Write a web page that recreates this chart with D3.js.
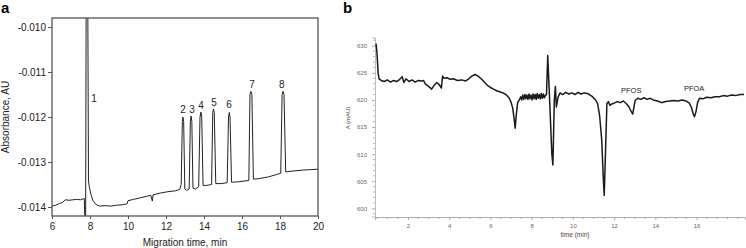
<!DOCTYPE html>
<html>
<head>
<meta charset="utf-8">
<script src="https://cdn.jsdelivr.net/npm/d3@7"></script>
<style>
  body { margin: 0; background: #fff; }
  svg { display: block; font-family: "Liberation Sans", Arial, sans-serif; }
  .axis-a text { font-size: 10px; fill: #222; }
  .axis-a line { stroke: #555; }
  .axis-b text { font-size: 6px; fill: #666; }
  .axis-b line { stroke: #aaa; }
</style>
</head>
<body>
<svg id="chart" width="746" height="248"></svg>
<script>
"use strict";

// Panel a: migration time (min) vs absorbance (AU)
const ticksA_x = [6, 8, 10, 12, 14, 16, 18, 20];
const ticksA_y = [-0.010, -0.011, -0.012, -0.013, -0.014];
const traceA = [
    [6.0, -0.01398], [6.2, -0.01396], [6.4, -0.01392], [6.55, -0.01390], [6.7, -0.01384],
    [6.9, -0.01385], [7.1, -0.01384], [7.3, -0.01383], [7.5, -0.01384], [7.7, -0.01381],
    [7.73, -0.0143], [7.77, -0.0143], [7.80, -0.0090], [7.88, -0.0090], [7.92, -0.0134],
    [7.96, -0.01355], [8.05, -0.01372], [8.15, -0.01385], [8.3, -0.01394], [8.5, -0.01398],
    [8.8, -0.01397], [9.1, -0.01398], [9.4, -0.01396], [9.7, -0.01395], [9.95, -0.01393],
    [10.0, -0.01386], [10.3, -0.01383], [10.6, -0.01380], [10.9, -0.01377], [11.2, -0.01374],
    [11.28, -0.01387], [11.32, -0.01373], [11.7, -0.01369], [12.1, -0.01366], [12.5, -0.01364],
    [12.72, -0.01361],
    [12.80, -0.0135], [12.86, -0.0121], [12.89, -0.01200], [12.93, -0.0121], [12.99, -0.0136],
    [13.08, -0.01363], [13.22, -0.0136],
    [13.28, -0.0121], [13.32, -0.01198], [13.36, -0.0121], [13.42, -0.01358], [13.55, -0.01360],
    [13.72, -0.01355],
    [13.79, -0.0120], [13.84, -0.01189], [13.88, -0.0120], [13.95, -0.01352], [14.15, -0.01352],
    [14.40, -0.0135],
    [14.46, -0.0119], [14.50, -0.01182], [14.54, -0.0119], [14.62, -0.01348], [14.9, -0.01348],
    [15.22, -0.01346],
    [15.29, -0.0120], [15.33, -0.0119], [15.37, -0.0120], [15.45, -0.01345], [15.8, -0.01344],
    [16.36, -0.01341],
    [16.42, -0.0115], [16.47, -0.01143], [16.52, -0.0115], [16.6, -0.01338], [16.9, -0.01337],
    [17.4, -0.01333], [17.8, -0.01328], [18.04, -0.01325],
    [18.11, -0.0115], [18.16, -0.01143], [18.21, -0.0115], [18.3, -0.01322], [18.7, -0.0132],
    [19.2, -0.01318], [19.6, -0.01317], [20.0, -0.01316]
];
const peakLabelsA = ["1", "2", "3", "4", "5", "6", "7", "8"];
const peakLabelTimeA = [8.21, 12.89, 13.37, 13.84, 14.53, 15.32, 16.53, 18.1];
const peakLabelValueA = [-0.01167, -0.01191, -0.01191, -0.01182, -0.01176, -0.01180, -0.01136, -0.01136];

// Panel b: time (min) vs A (mAU)
const ticksB_x = [2, 4, 6, 8, 10, 12, 14, 16];
const minorB_x = [0.5, 1, 1.5, 2.5, 3, 3.5, 4.5, 5, 5.5, 6.5, 7, 7.5, 8.5, 9, 9.5, 10.5, 11, 11.5,
    12.5, 13, 13.5, 14.5, 15, 15.5, 16.5, 17, 17.5, 18];
const ticksB_y = [600, 605, 610, 615, 620, 625, 630];
const minorB_y = [599, 601, 602, 603, 604, 606, 607, 608, 609, 611, 612, 613, 614, 616, 617, 618, 619,
    621, 622, 623, 624, 626, 627, 628, 629, 631];
const traceB = [
    [0.45, 630.4], [0.50, 628.5], [0.55, 625.0], [0.60, 623.9], [0.70, 623.6], [0.85, 623.4],
    [1.0, 623.7], [1.15, 623.3], [1.3, 623.6], [1.45, 623.4], [1.6, 623.8], [1.72, 624.3],
    [1.8, 623.2], [1.9, 623.9], [2.05, 623.4], [2.2, 623.7], [2.35, 623.3], [2.5, 623.6],
    [2.65, 623.5], [2.75, 623.6], [2.85, 622.9], [3.0, 622.5], [3.15, 622.0], [3.25, 622.6],
    [3.4, 623.2], [3.5, 622.9], [3.62, 622.2], [3.68, 624.4], [3.75, 624.0], [3.9, 624.1],
    [4.05, 623.8], [4.2, 623.9], [4.4, 623.6], [4.6, 623.7], [4.8, 623.5], [4.95, 623.9],
    [5.1, 624.4], [5.25, 624.7], [5.4, 624.4], [5.55, 623.9], [5.7, 623.3], [5.85, 622.7],
    [6.0, 622.3], [6.15, 622.0], [6.3, 621.7], [6.45, 621.5], [6.6, 621.3], [6.75, 621.0],
    [6.9, 620.4], [7.0, 619.6], [7.08, 618.5], [7.15, 616.5], [7.2, 614.8], [7.26, 617.5],
    [7.32, 619.5], [7.4, 620.0], [7.47, 620.6], [7.52, 620.0], [7.57, 620.9], [7.62, 620.1],
    [7.67, 621.0], [7.72, 620.2], [7.77, 620.9], [7.82, 620.1], [7.87, 621.1], [7.92, 620.2],
    [7.97, 620.9], [8.02, 620.0], [8.07, 621.1], [8.12, 620.2], [8.17, 621.0], [8.22, 620.1],
    [8.27, 621.2], [8.32, 620.3], [8.37, 621.0], [8.42, 620.2], [8.47, 621.2], [8.52, 620.3],
    [8.57, 621.1], [8.62, 620.4], [8.68, 620.9], [8.72, 621.0], [8.78, 628.2], [8.85, 622.0],
    [8.98, 610.0], [9.03, 608.0], [9.1, 620.0], [9.15, 622.5], [9.2, 618.7], [9.28, 620.5],
    [9.38, 621.3], [9.5, 621.0], [9.65, 621.4], [9.8, 621.1], [9.95, 621.3], [10.1, 621.0],
    [10.25, 621.4], [10.4, 621.1], [10.55, 621.3], [10.7, 621.2], [10.8, 621.0], [10.95, 620.6],
    [11.1, 620.0], [11.2, 619.3], [11.3, 617.0], [11.4, 612.6], [11.47, 606.0], [11.52, 602.4],
    [11.58, 610.0], [11.65, 619.3], [11.72, 619.7], [11.8, 619.0], [11.9, 619.3], [12.0, 619.4],
    [12.15, 619.7], [12.3, 619.5], [12.45, 619.8], [12.6, 619.3], [12.7, 618.8], [12.8, 618.1],
    [12.9, 617.4], [12.97, 618.8], [13.02, 619.9], [13.15, 620.3], [13.3, 620.1], [13.45, 620.4],
    [13.6, 620.1], [13.75, 620.3], [13.9, 620.0], [14.1, 619.8], [14.3, 619.5], [14.5, 619.7],
    [14.7, 619.8], [14.9, 619.9], [15.1, 619.8], [15.3, 620.0], [15.5, 619.8], [15.65, 619.4],
    [15.75, 618.6], [15.85, 617.3], [15.9, 616.9], [15.97, 617.8], [16.05, 619.5], [16.14, 620.3],
    [16.3, 620.2], [16.5, 620.5], [16.7, 620.4], [16.9, 620.6], [17.1, 620.6], [17.3, 620.8],
    [17.5, 620.7], [17.7, 620.9], [17.9, 620.8], [18.1, 621.0], [18.3, 621.0]
];
const labelsB = ["PFOS", "PFOA"];
const labelTimeB = [12.83, 15.88];
const labelValueB = [621.2, 621.65];

const svg = d3.select("#chart");

// ---------- panel a ----------
const xA = d3.scaleLinear().domain([6, 20]).range([52, 318]);
const yA = d3.scaleLinear().domain([-0.0142, -0.0098]).range([216, 18]);

svg.append("text")
    .attr("x", 1).attr("y", 13)
    .attr("font-size", 15).attr("font-weight", "bold")
    .text("a");

svg.append("clipPath").attr("id", "clip-a")
    .append("rect")
    .attr("x", xA(6)).attr("y", yA(-0.0098))
    .attr("width", xA(20) - xA(6)).attr("height", yA(-0.0142) - yA(-0.0098));

svg.append("path")
    .datum(traceA)
    .attr("clip-path", "url(#clip-a)")
    .attr("fill", "none")
    .attr("stroke", "#222")
    .attr("stroke-width", 1)
    .attr("d", d3.line().x(d => xA(d[0])).y(d => yA(d[1])));

svg.append("rect")
    .attr("x", xA(6)).attr("y", yA(-0.0098))
    .attr("width", xA(20) - xA(6)).attr("height", yA(-0.0142) - yA(-0.0098))
    .attr("fill", "none").attr("stroke", "#555").attr("stroke-width", 1.3);

const axA_x = svg.append("g")
    .attr("class", "axis-a")
    .attr("transform", `translate(0,${yA(-0.0142)})`)
    .call(d3.axisBottom(xA).tickValues(ticksA_x).tickSize(3).tickPadding(4).tickFormat(d => String(d)));
axA_x.select(".domain").remove();

const axA_y = svg.append("g")
    .attr("class", "axis-a")
    .attr("transform", `translate(${xA(6)},0)`)
    .call(d3.axisLeft(yA).tickValues(ticksA_y).tickSize(4).tickPadding(2).tickFormat(d => d.toFixed(3)));
axA_y.select(".domain").remove();

svg.selectAll(".peak-label")
    .data(peakLabelsA)
    .join("text")
    .attr("class", "peak-label")
    .attr("x", (d, i) => xA(peakLabelTimeA[i]))
    .attr("y", (d, i) => yA(peakLabelValueA[i]))
    .attr("text-anchor", "middle")
    .attr("font-size", 10).attr("fill", "#222")
    .text(d => d);

svg.append("text")
    .attr("text-anchor", "middle")
    .attr("x", (xA(6) + xA(20)) / 2).attr("y", 246)
    .attr("font-size", 10).attr("fill", "#222")
    .text("Migration time, min");

svg.append("text")
    .attr("text-anchor", "middle")
    .attr("transform", `translate(9,${(yA(-0.0098) + yA(-0.0142)) / 2}) rotate(-90)`)
    .attr("font-size", 10).attr("fill", "#222")
    .text("Absorbance, AU");

// ---------- panel b ----------
const xB = d3.scaleLinear().domain([0.4, 18.35]).range([375, 745]);
const yB = d3.scaleLinear().domain([598.5, 631.5]).range([216.5, 37.6]);

svg.append("text")
    .attr("x", 343).attr("y", 13)
    .attr("font-size", 15).attr("font-weight", "bold")
    .text("b");

const axB_x = svg.append("g")
    .attr("class", "axis-b")
    .attr("transform", `translate(0,${yB(598.5) + 0.5})`)
    .call(d3.axisBottom(xB).tickValues(ticksB_x).tickSize(3).tickPadding(4).tickFormat(d => String(d)));
axB_x.select(".domain").attr("stroke", "#999").attr("stroke-width", 0.8);
svg.append("g")
    .attr("transform", `translate(0,${yB(598.5) + 0.5})`)
    .selectAll("line")
    .data(minorB_x)
    .join("line")
    .attr("x1", d => xB(d)).attr("x2", d => xB(d))
    .attr("y1", 0).attr("y2", 2)
    .attr("stroke", "#aaa");

const axB_y = svg.append("g")
    .attr("class", "axis-b")
    .attr("transform", `translate(${xB(0.4)},0)`)
    .call(d3.axisLeft(yB).tickValues(ticksB_y).tickSize(3).tickPadding(5).tickFormat(d => String(d)));
axB_y.select(".domain").attr("stroke", "#aaa").attr("stroke-width", 0.8);
svg.append("g")
    .attr("transform", `translate(${xB(0.4)},0)`)
    .selectAll("line")
    .data(minorB_y)
    .join("line")
    .attr("x1", -2).attr("x2", 0)
    .attr("y1", d => yB(d)).attr("y2", d => yB(d))
    .attr("stroke", "#bbb");

svg.append("path")
    .datum(traceB)
    .attr("fill", "none")
    .attr("stroke", "#1a1a1a")
    .attr("stroke-width", 1.5)
    .attr("stroke-linejoin", "round")
    .attr("d", d3.line().x(d => xB(d[0])).y(d => yB(d[1])));

svg.selectAll(".label-b")
    .data(labelsB)
    .join("text")
    .attr("class", "label-b")
    .attr("x", (d, i) => xB(labelTimeB[i]))
    .attr("y", (d, i) => yB(labelValueB[i]))
    .attr("text-anchor", "middle")
    .attr("font-size", 7.5).attr("fill", "#222")
    .text(d => d);

svg.append("text")
    .attr("text-anchor", "middle")
    .attr("x", 575).attr("y", 237)
    .attr("font-size", 6.5).attr("fill", "#444")
    .text("time (min)");

svg.append("text")
    .attr("text-anchor", "middle")
    .attr("transform", `translate(350,118) rotate(-90)`)
    .attr("font-size", 6).attr("fill", "#444")
    .text("A (mAU)");
</script>
</body>
</html>
